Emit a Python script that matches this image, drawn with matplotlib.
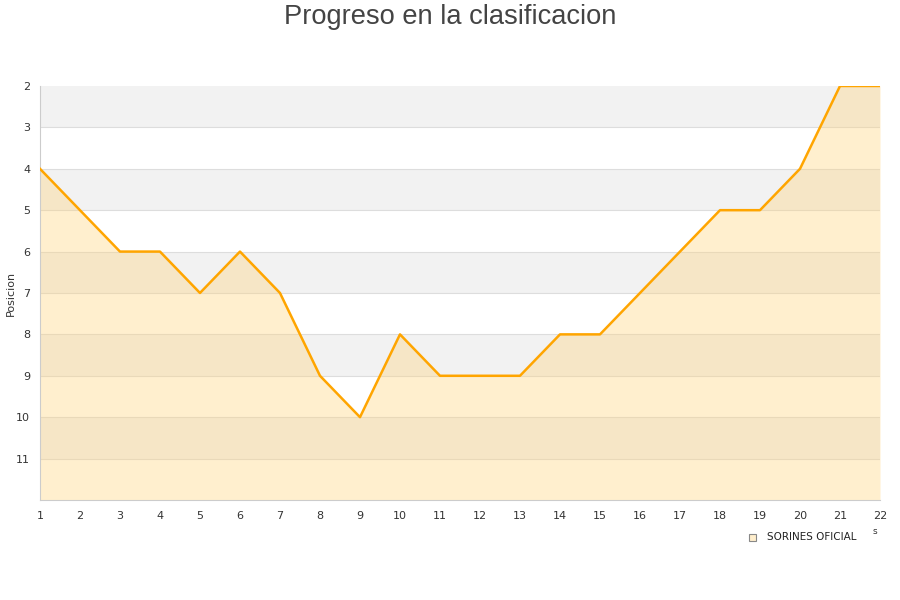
import numpy as np
import matplotlib.pyplot as plt

jornadas = list(range(1, 23))
posicion = [4, 5, 6, 6, 7, 6, 7, 9, 10, 8, 9, 9, 9, 8, 8, 7, 6, 5, 5, 4, 2, 2]
y_ticks = list(range(2, 12))
team = 'SORINES OFICIAL'

fig = plt.figure(figsize=(9, 6), dpi=100)
ax = fig.add_axes([0.0444, 0.1667, 0.9334, 0.69])

# alternating bands
for lo in range(2, 12, 2):
    ax.axhspan(lo, lo + 1, color='#f2f2f2', zorder=0, lw=0)
for y in range(3, 12):
    ax.axhline(y, color='#dddddd', lw=0.8, zorder=1)

ax.fill_between(jornadas, posicion, 12, color='#ffd580', alpha=0.38, lw=0, zorder=2)
ax.plot(jornadas, posicion, color='#ffa500', lw=1.8, zorder=3)

ax.set_xlim(1, 22)
ax.set_ylim(12, 2)
ax.set_xticks(jornadas)
ax.set_yticks(y_ticks)
ax.tick_params(length=0, labelsize=8, colors='#333333')
ax.tick_params(axis='x', pad=8)
ax.tick_params(axis='y', pad=7)
for s in ['top', 'right']:
    ax.spines[s].set_visible(False)
for s in ['left', 'bottom']:
    ax.spines[s].set_color('#cccccc')
ax.set_ylabel('Posicion', fontsize=8, color='#333333')
ax.yaxis.set_label_coords(-0.029, 0.5)

fig.text(0.5, 1 - 17 / 600, 'Progreso en la clasificacion', ha='center', va='center',
         fontsize=19.6, color='#444444', family='Liberation Sans')

# legend
fig.patches.append(plt.Rectangle((749 / 900, 1 - 541 / 600), 7 / 900, 7 / 600,
                                 transform=fig.transFigure, facecolor='#ffeecc',
                                 edgecolor='#888888', lw=0.8))
fig.text(767 / 900, 1 - 537 / 600, team, fontsize=7.5, color='#222222', va='center')
fig.text(873 / 900, 1 - 532 / 600, 's', fontsize=6.5, color='#333333', va='center')

fig.savefig('out.png')
